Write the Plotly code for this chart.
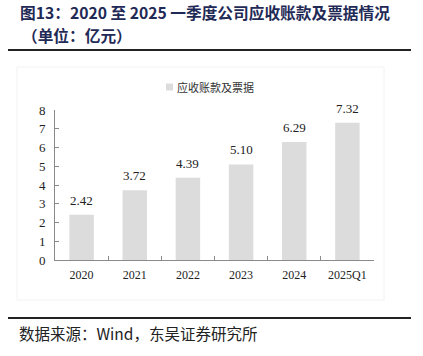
import plotly.graph_objects as go

categories = ["2020", "2021", "2022", "2023", "2024", "2025Q1"]
values = [2.42, 3.72, 4.39, 5.10, 6.29, 7.32]
series_name = "应收账款及票据"
y_ticks = [0, 1, 2, 3, 4, 5, 6, 7, 8]
title_line1 = "图13：2020 至 2025 一季度公司应收账款及票据情况"
title_line2 = "（单位：亿元）"
source_text = "数据来源：Wind，东吴证券研究所"

W, H = 423, 356
L, R, T, B = 55, 374, 110, 260  # plot area in px


def px(x):
    return (x - L) / (R - L)


def py(y):
    return (B - y) / (B - T)


serif = "Liberation Serif, Noto Sans CJK SC, serif"
cjk = "Noto Sans CJK SC, sans-serif"
bar_color = "#dcdcdc"
axis_color = "#8a8a8a"
title_color = "#1f2a56"

fig = go.Figure()
fig.add_trace(go.Bar(
    x=categories, y=values, name=series_name,
    marker=dict(color=bar_color, line=dict(width=0)),
    showlegend=False,
))

# value labels above bars (category index positions on the category axis)
for i, v in enumerate(values):
    fig.add_annotation(x=i, y=v, xref="x", yref="y", text=f"{v:.2f}",
                       showarrow=False, yanchor="bottom", yshift=5,
                       font=dict(family=serif, size=13, color="#222"))

fig.update_layout(
    width=W, height=H, autosize=False,
    margin=dict(l=L, r=W - R, t=T, b=H - B, pad=0),
    paper_bgcolor="white", plot_bgcolor="white",
    bargap=0.54,
    xaxis=dict(
        type="category", categoryorder="array", categoryarray=categories,
        range=[-0.5, len(categories) - 0.5],
        showline=True, linecolor=axis_color, linewidth=1,
        ticks="inside", tickson="boundaries", ticklen=4, tickcolor=axis_color,
        tickfont=dict(family=serif, size=12, color="#222"),
        ticklabelstandoff=4,
        showgrid=False, zeroline=False, fixedrange=True,
    ),
    yaxis=dict(
        range=[0, 8], tickvals=y_ticks,
        showline=True, linecolor=axis_color, linewidth=1,
        ticks="inside", ticklen=4, tickcolor=axis_color,
        tickfont=dict(family=serif, size=13, color="#222"),
        ticklabelstandoff=6,
        showgrid=False, zeroline=False, fixedrange=True,
    ),
    font=dict(family=serif),
)

# faint chart frame
fig.add_shape(type="rect", xref="paper", yref="paper",
              x0=px(17), x1=px(384), y0=py(300), y1=py(67),
              line=dict(color="#f2f2f2", width=1), layer="below")

# rules
fig.add_shape(type="line", xref="paper", yref="paper",
              x0=px(8), x1=px(411), y0=py(50), y1=py(50),
              line=dict(color="#222", width=2))
fig.add_shape(type="line", xref="paper", yref="paper",
              x0=px(8), x1=px(411), y0=py(318), y1=py(318),
              line=dict(color="#222", width=2))

# legend marker + label
fig.add_shape(type="rect", xref="paper", yref="paper",
              x0=px(166), x1=px(173), y0=py(90.5), y1=py(83.5),
              fillcolor=bar_color, line=dict(width=0))
fig.add_annotation(xref="paper", yref="paper", x=px(175), y=py(87),
                   text=series_name, showarrow=False, xanchor="left", yanchor="middle",
                   font=dict(family=cjk, size=11, color="#333"))

# title
fig.add_annotation(xref="paper", yref="paper", x=px(18), y=py(13),
                   text=f"<b>{title_line1}</b>", showarrow=False,
                   xanchor="left", yanchor="middle",
                   font=dict(family=cjk, size=15.7, color=title_color))
fig.add_annotation(xref="paper", yref="paper", x=px(20), y=py(35),
                   text=f"<b>{title_line2}</b>", showarrow=False,
                   xanchor="left", yanchor="middle",
                   font=dict(family=cjk, size=15.7, color=title_color))

# source
fig.add_annotation(xref="paper", yref="paper", x=px(17), y=py(333),
                   text=source_text, showarrow=False,
                   xanchor="left", yanchor="middle",
                   font=dict(family=cjk, size=15.5, color="#222"))

fig.write_html("out.html", config=dict(displayModeBar=False),
               post_script="document.body.style.margin='0';document.body.style.overflow='hidden';")
